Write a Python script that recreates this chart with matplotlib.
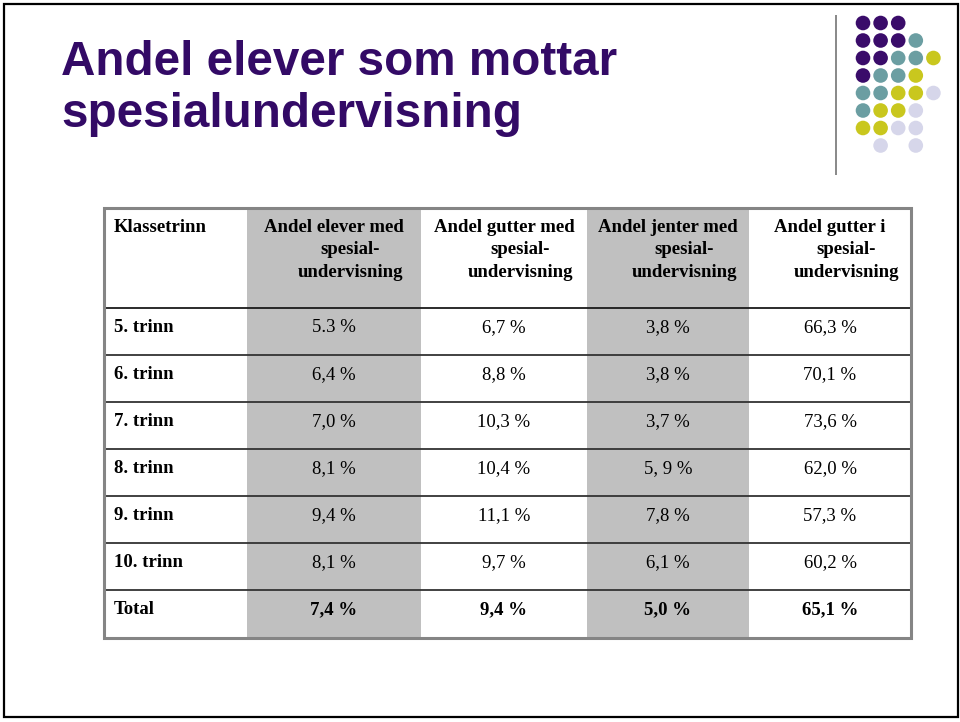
import matplotlib
matplotlib.use("Agg")
import matplotlib.pyplot as plt
from matplotlib.patches import Rectangle, Circle

# ---- data ----
title_lines = ["Andel elever som mottar", "spesialundervisning"]
first_col_header = "Klassetrinn"
col_headers = [
    ["Andel elever med", "spesial-", "undervisning"],
    ["Andel gutter med", "spesial-", "undervisning"],
    ["Andel jenter med", "spesial-", "undervisning"],
    ["Andel gutter i", "spesial-", "undervisning"],
]
grades = ["5. trinn", "6. trinn", "7. trinn", "8. trinn", "9. trinn", "10. trinn", "Total"]
andel_elever = ["5.3 %", "6,4 %", "7,0 %", "8,1 %", "9,4 %", "8,1 %", "7,4 %"]
andel_gutter = ["6,7 %", "8,8 %", "10,3 %", "10,4 %", "11,1 %", "9,7 %", "9,4 %"]
andel_jenter = ["3,8 %", "3,8 %", "3,7 %", "5, 9 %", "7,8 %", "6,1 %", "5,0 %"]
andel_gutter_i = ["66,3 %", "70,1 %", "73,6 %", "62,0 %", "57,3 %", "60,2 %", "65,1 %"]
columns = [andel_elever, andel_gutter, andel_jenter, andel_gutter_i]

# decorative dot pattern (P=purple, T=teal, Y=yellow, L=lavender)
dot_rows = ["PPP..", "PPPT.", "PPTTY", "PTTY.", "TTYYL", "TYYL.", "YYLL.", ".L.L."]
dot_colors = {"P": "#3a0c6a", "T": "#6b9ea2", "Y": "#c9c71e", "L": "#d6d6ea"}

# ---- layout ----
W, H = 960, 722
fig = plt.figure(figsize=(W / 100, H / 100), dpi=100)
ax = fig.add_axes([0, 0, 1, 1])
ax.set_xlim(0, W)
ax.set_ylim(H, 0)
ax.axis("off")

serif = ["Liberation Serif", "DejaVu Serif"]
sans = ["Liberation Sans", "DejaVu Sans"]

# slide frame
ax.add_patch(Rectangle((3.5, 3.5), 954, 713, fill=False, ec="black", lw=1.6, zorder=1))

# title
title_color = "#330a66"
for i, line in enumerate(title_lines):
    ax.text(61, 75 + i * 52, line, fontsize=34.3, fontweight="bold", color=title_color,
            family=sans, va="baseline", ha="left")

# dots
x0d, y0d, step_x, step_y = 863, 23, 17.6, 17.5
for r, row in enumerate(dot_rows):
    for c, ch in enumerate(row):
        if ch in dot_colors:
            ax.add_patch(Circle((x0d + c * step_x, y0d + r * step_y), 7.3,
                                color=dot_colors[ch], ec="none", zorder=3))
ax.plot([836, 836], [15, 175], color="#7f7f7f", lw=1.3, solid_capstyle="butt")

# table
xe = [104, 247, 421, 587, 749, 911]
ye = [208, 308, 355, 402, 449, 496, 543, 590, 638]
gray = "#c0c0c0"
for ci in (1, 3):
    ax.add_patch(Rectangle((xe[ci], ye[0]), xe[ci + 1] - xe[ci], ye[-1] - ye[0],
                           color=gray, ec="none", zorder=1))

# horizontal separators
for k, y in enumerate(ye[1:-1]):
    ax.plot([xe[0], xe[-1]], [y, y], color="#1a1a1a" if k == 0 else "#333333",
            lw=1.3, solid_capstyle="butt", zorder=2)
# outer border
ax.add_patch(Rectangle((xe[0], ye[0]), xe[-1] - xe[0], ye[-1] - ye[0], fill=False,
                       ec="#858585", lw=2.2, zorder=4))

fs = 13.5
# header
ax.text(114, 232, first_col_header, fontsize=fs, fontweight="bold", family=serif,
        va="baseline", ha="left", zorder=5)
for ci, lines in enumerate(col_headers):
    cx = (xe[ci + 1] + xe[ci + 2]) / 2
    for li, line in enumerate(lines):
        dx = 0 if li == 0 else 16
        ax.text(cx + dx, 232 + li * 22.5, line, fontsize=fs, fontweight="bold",
                family=serif, va="baseline", ha="center", zorder=5)

# body
for ri, g in enumerate(grades):
    base = ye[ri + 1] + 24
    bold = g == "Total"
    ax.text(114, base, g, fontsize=fs, fontweight="bold", family=serif,
            va="baseline", ha="left", zorder=5)
    for ci, col in enumerate(columns):
        cx = (xe[ci + 1] + xe[ci + 2]) / 2
        ax.text(cx, base, col[ri], fontsize=fs, fontweight="bold" if bold else "normal",
                family=serif, va="baseline", ha="center", zorder=5)

fig.savefig("out.png", dpi=100)
